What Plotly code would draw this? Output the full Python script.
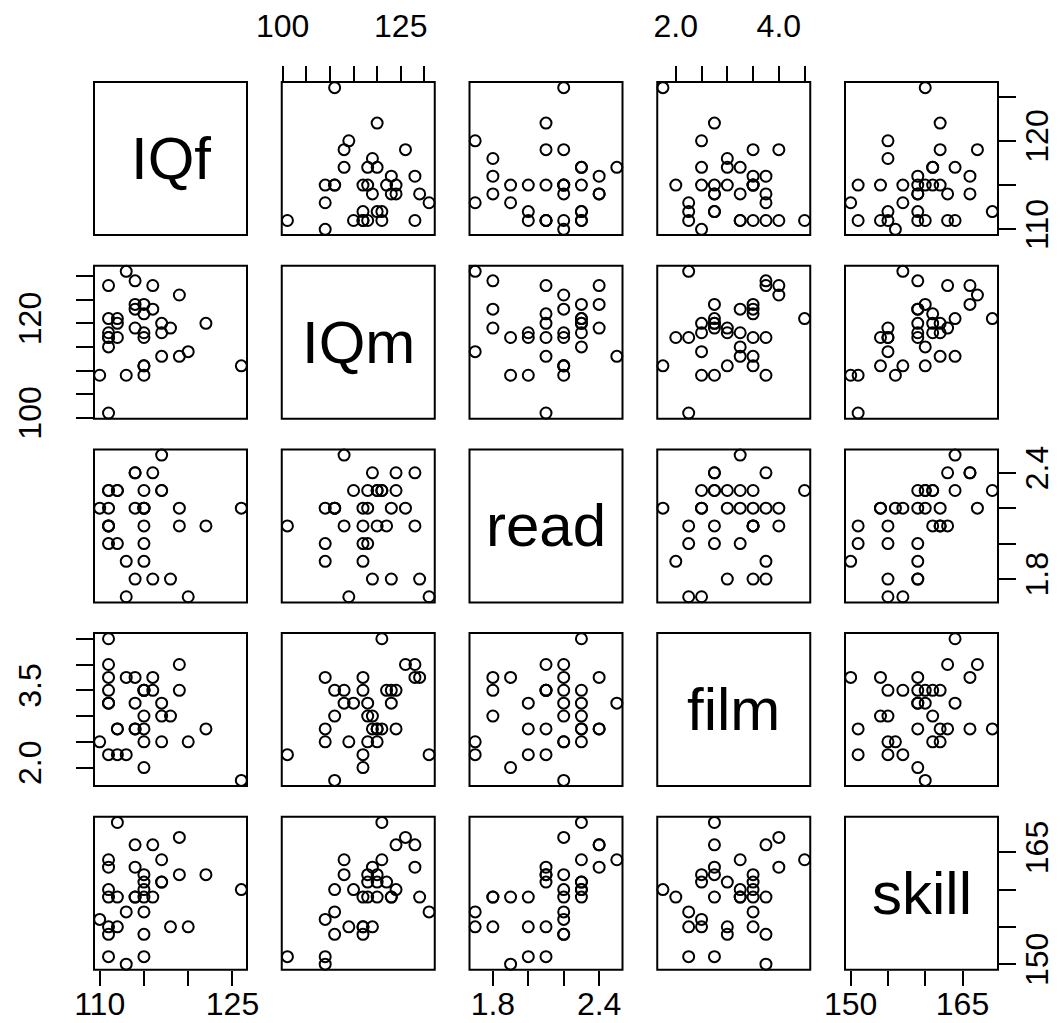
import plotly.graph_objects as go

# ---- data ----
var_names = ["IQf", "IQm", "read", "film", "skill"]

IQf = [110, 111, 111, 111, 111, 111, 111, 111, 112, 112, 112, 113, 113, 114, 114, 114, 114,
       115, 115, 115, 115, 115, 115, 115, 116, 116, 117, 117, 117, 118, 119, 119, 120, 122, 126]
IQm = [109, 101, 128, 115, 121, 118, 117, 117, 121, 120, 117, 109, 131, 129, 124, 123, 119,
       124, 122, 118, 117, 111, 111, 109, 128, 123, 113, 120, 118, 119, 113, 126, 114, 120, 111]
read = [2.2, 2.1, 2.1, 2.3, 2.3, 2.0, 2.2, 2.1, 2.3, 2.3, 2.0, 1.9, 1.7, 1.8, 2.4, 2.2, 2.4,
        2.3, 2.1, 2.2, 1.9, 2.2, 2.2, 2.0, 2.4, 1.8, 2.5, 2.3, 2.3, 1.8, 2.1, 2.2, 1.7, 2.1, 2.2]
film = [2.5, 2.25, 4.0, 3.25, 4.5, 3.25, 3.75, 3.5, 2.75, 2.75, 2.25, 3.75, 2.25, 3.75, 2.75, 3.25, 2.75,
        3.5, 3.5, 2.5, 2.0, 3.5, 3.0, 2.75, 3.75, 3.5, 3.25, 2.5, 3.0, 3.0, 3.5, 4.0, 2.5, 2.75, 1.75]
skill = [156, 151, 163, 160, 164, 159, 154, 155, 169, 159, 155, 150, 157, 159, 166, 159, 163,
         160, 161, 162, 159, 157, 154, 151, 166, 159, 164, 161, 161, 155, 162, 167, 155, 162, 160]

data = [IQf, IQm, read, film, skill]

# tick positions and the labels R actually printed on each side
ticks = [
    [110, 115, 120, 125],
    [100, 105, 110, 115, 120, 125, 130],
    [1.8, 2.0, 2.2, 2.4],
    [2.0, 2.5, 3.0, 3.5, 4.0, 4.5],
    [150, 155, 160, 165],
]
fmt = ["{:.0f}", "{:.0f}", "{:.1f}", "{:.1f}", "{:.0f}"]
labels_x = [  # bottom (cols 0,2,4) / top (cols 1,3)
    [110, 125],
    [100, 125],
    [1.8, 2.4],
    [2.0, 4.0],
    [150, 165],
]
labels_y = [  # right (rows 0,2,4) / left (rows 1,3)
    [110, 120],
    [100, 120],
    [1.8, 2.4],
    [2.0, 3.5],
    [150, 165],
]

W, H = 1064, 1023
BOX = 153
col_left = [86 + 187.75 * c for c in range(5)]
row_top = [74 + 183.7 * r for r in range(5)]

FONT = "Liberation Sans, Arial, sans-serif"
TICKFONT = dict(family=FONT, size=32, color="black")


def ext_range(v):
    lo, hi = min(v), max(v)
    d = (hi - lo) * 0.04
    return [lo - d, hi + d]


def ticktexts(i, shown):
    out = []
    for t in ticks[i]:
        out.append(fmt[i].format(t) if any(abs(t - s) < 1e-9 for s in shown) else "")
    return out


fig = go.Figure()
layout = dict(
    width=W, height=H,
    margin=dict(l=0, r=0, t=0, b=0, autoexpand=False),
    paper_bgcolor="white", plot_bgcolor="white",
    showlegend=False,
    shapes=[], annotations=[],
)

for r in range(5):
    for c in range(5):
        k = r * 5 + c + 1
        xn = "x" if k == 1 else f"x{k}"
        yn = "y" if k == 1 else f"y{k}"
        xa = "xaxis" if k == 1 else f"xaxis{k}"
        ya = "yaxis" if k == 1 else f"yaxis{k}"
        x0 = col_left[c] / W
        x1 = (col_left[c] + BOX) / W
        y1 = 1 - row_top[r] / H
        y0 = 1 - (row_top[r] + BOX) / H

        xax = dict(domain=[x0, x1], range=ext_range(data[c]), anchor=yn,
                   showgrid=False, zeroline=False, showline=False, automargin=False,
                   ticks="", showticklabels=False, fixedrange=True)
        yax = dict(domain=[y0, y1], range=ext_range(data[r]), anchor=xn,
                   showgrid=False, zeroline=False, showline=False, automargin=False,
                   ticks="", showticklabels=False, fixedrange=True)

        if r == 4 and c in (0, 2, 4):
            xax.update(ticks="outside", ticklen=15, tickwidth=2, tickcolor="black",
                       tickmode="array", tickvals=ticks[c], ticktext=ticktexts(c, labels_x[c]),
                       showticklabels=True, side="bottom", tickfont=TICKFONT, tickangle=0,
                       ticklabelstandoff=-9)
        if r == 0 and c in (1, 3):
            xax.update(ticks="outside", ticklen=15, tickwidth=2, tickcolor="black",
                       tickmode="array", tickvals=ticks[c], ticktext=ticktexts(c, labels_x[c]),
                       showticklabels=True, side="top", tickfont=TICKFONT, tickangle=0,
                       ticklabelstandoff=16)
        if c == 0 and r in (1, 3):
            yax.update(ticks="outside", ticklen=17, tickwidth=2, tickcolor="black",
                       tickmode="array", tickvals=ticks[r], ticktext=ticktexts(r, labels_y[r]),
                       showticklabels=True, side="left", tickfont=TICKFONT, tickangle=-90,
                       ticklabelstandoff=22)
        if c == 4 and r in (0, 2, 4):
            yax.update(ticks="outside", ticklen=17, tickwidth=2, tickcolor="black",
                       tickmode="array", tickvals=ticks[r], ticktext=ticktexts(r, labels_y[r]),
                       showticklabels=True, side="right", tickfont=TICKFONT, tickangle=-90,
                       ticklabelstandoff=-6)

        layout[xa] = xax
        layout[ya] = yax

        layout["shapes"].append(dict(type="rect", xref="paper", yref="paper",
                                     x0=x0, x1=x1, y0=y0, y1=y1,
                                     line=dict(color="black", width=2),
                                     fillcolor="rgba(0,0,0,0)", layer="above"))

        if r == c:
            fig.add_trace(go.Scatter(x=[], y=[], xaxis=xn, yaxis=yn, mode="markers",
                                     hoverinfo="skip"))
            layout["annotations"].append(dict(
                x=(x0 + x1) / 2, y=(y0 + y1) / 2, xref="paper", yref="paper",
                text=var_names[r], showarrow=False,
                font=dict(family=FONT, size=60, color="black"),
                xanchor="center", yanchor="middle"))
        else:
            fig.add_trace(go.Scatter(
                x=data[c], y=data[r], xaxis=xn, yaxis=yn, mode="markers",
                cliponaxis=False,
                marker=dict(symbol="circle-open", size=11, color="black",
                            line=dict(width=2, color="black")),
                hoverinfo="skip"))

fig.update_layout(**layout)
fig.write_html("out.html")
